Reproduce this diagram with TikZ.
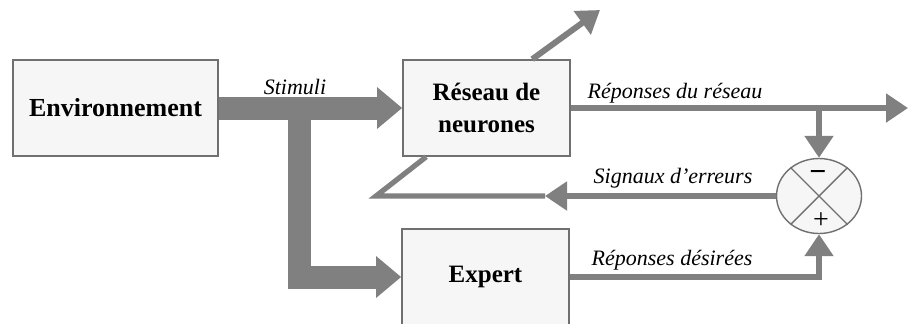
\documentclass[tikz,border=0pt]{standalone}
\usepackage{fontspec}
\setmainfont{Liberation Serif}
\usetikzlibrary{arrows.meta,shapes.geometric}
\definecolor{flow}{HTML}{808080}
\definecolor{boxfill}{HTML}{F6F6F6}
\definecolor{edge}{HTML}{707070}
\begin{document}
\begin{tikzpicture}[x=0.5pt,y=-0.5pt,
  block/.style={draw=edge, line width=0.8pt, fill=boxfill, minimum height=48pt,
    inner sep=0pt, align=center, font=\fontsize{12.5}{16}\selectfont\bfseries},
  bigflow/.style={draw=flow, line width=11.5pt, line join=miter,
    -{Triangle[length=12.5pt,width=20pt]}},
  flowline/.style={draw=flow, line width=2.6pt, line join=miter},
  flowarrow/.style={flowline, -{Triangle[length=11pt,width=14pt]}},
  lbl/.style={font=\fontsize{11}{13}\selectfont\itshape, inner sep=0pt}]
\useasboundingbox (0,0) rectangle (909,323);
\clip (0,0) rectangle (909,323);

% blocks
\node[block, minimum width=102.5pt, font=\fontsize{13}{16}\selectfont\bfseries] (env) at (115.5,108) {Environnement};
\node[block, minimum width=83.5pt] (reseau) at (486.5,108) {Réseau de\\neurones};
\node[block, minimum width=83.5pt] (expert) at (485.5,277) {Expert};

% comparator
\node[ellipse, draw=edge, line width=0.7pt, fill=boxfill, minimum width=42.5pt,
  minimum height=37.5pt, inner sep=0pt] (sum) at (819,196) {};
\draw[edge, line width=0.7pt] (sum.45) -- (sum.225) (sum.135) -- (sum.315);
\node[font=\fontsize{15}{15}\selectfont\bfseries, inner sep=0pt] (minus) at (818,176) {−};
\node[font=\fontsize{14}{14}\selectfont, inner sep=0pt] (plus) at (821,221) {+};

% helper points
\coordinate (br) at (299,108);
\coordinate (rout) at ([xshift=65pt]reseau.north west);
\coordinate (up) at (600,10);
\coordinate (rr) at (908,108);
\coordinate (tap) at (819,108);
\coordinate (errtip) at (545,196);
\coordinate (errcorner) at (376,196);
\coordinate (rin) at ([xshift=12pt]reseau.south west);

% stimuli
\draw[bigflow] (env.east) -- (reseau.west);
\draw[bigflow] (br) |- (expert.west);
\node[lbl] (stim) at (295,87) {Stimuli};

% network outputs
\draw[flowarrow, line width=3pt] (rout) -- (up);
\draw[flowarrow] (reseau.east) -- (rr);
\draw[flowarrow] (tap) -- (sum.north);
\node[lbl] (lrr) at (675,93) {Réponses du réseau};

% desired outputs
\draw[flowarrow] (expert.east) -| (sum.south);
\node[lbl] (lrd) at (672,260) {Réponses désirées};

% error feedback
\draw[flowarrow] (sum.west) -- (errtip);
\draw[flowline] (errtip) -- (errcorner) -- (rin);
\node[lbl] (lerr) at (673,178) {Signaux d’erreurs};
\end{tikzpicture}
\end{document}
